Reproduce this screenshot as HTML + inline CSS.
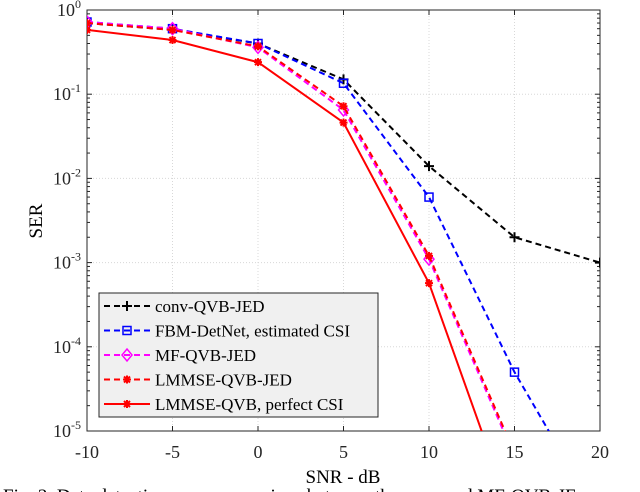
<!DOCTYPE html>
<html><head><meta charset="utf-8"><style>
html,body{margin:0;background:#fff;width:640px;height:492px;overflow:hidden;font-family:"Liberation Serif",serif}
svg{display:block;overflow:hidden}
</style></head><body>
<svg id="chart" width="640" height="492" xmlns="http://www.w3.org/2000/svg" font-family="Liberation Serif, serif">
<defs><clipPath id="pc"><rect x="87" y="10" width="513" height="421"/></clipPath>
<clipPath id="cc"><rect x="0" y="470" width="640" height="22"/></clipPath></defs>
<g id="grid"></g><g id="axes"></g><g id="series" clip-path="url(#pc)"></g><g id="legend"></g>
<text x="42" y="221" font-size="19" text-anchor="middle" transform="rotate(-90 42 221)">SER</text>
<text x="343" y="483" font-size="19" text-anchor="middle">SNR - dB</text>
<g clip-path="url(#cc)"><text x="3" y="502" font-size="19">Fig. 3.   Data detection error comparison between the proposed MF-QVB-JE</text></g>
</svg>
<script>
const snr=[-10,-5,0,5,10,15,20];
const convQVB=[0.7,0.58,0.4,0.15,0.014,0.002,0.001];
const fbmDetNet=[0.72,0.6,0.4,0.135,0.006,5e-5,9e-7];
const mfQVB=[0.72,0.6,0.36,0.065,0.0011,5e-6,null];
const lmmseJED=[0.7,0.58,0.37,0.072,0.0012,5.5e-6,null];
const lmmsePerfect=[0.58,0.44,0.24,0.046,0.00057,8e-7,null];
const xTicks=[-10,-5,0,5,10,15,20];
const yExps=[0,-1,-2,-3,-4,-5];
const legendLabels=["conv-QVB-JED","FBM-DetNet, estimated CSI","MF-QVB-JED","LMMSE-QVB-JED","LMMSE-QVB, perfect CSI"];

const L=87,R=600,T=10,B=431;
const X=v=>L+(v+10)/30*(R-L);
const Y=v=>T+(-Math.log10(v))/5*(B-T);
const NS="http://www.w3.org/2000/svg";
function mk(tag,attrs,parent){const e=document.createElementNS(NS,tag);for(const k in attrs)e.setAttribute(k,attrs[k]);parent.appendChild(e);return e;}
const grid=document.getElementById('grid'),axes=document.getElementById('axes'),ser=document.getElementById('series'),leg=document.getElementById('legend');
xTicks.forEach(t=>{
 const g=mk('line',{x1:X(t),x2:X(t),y1:T,y2:B,stroke:'#d8d8d8','stroke-dasharray':'1,2'},grid);
 
 mk('line',{x1:X(t),x2:X(t),y1:B,y2:B-5,stroke:'#262626'},axes);
 mk('line',{x1:X(t),x2:X(t),y1:T,y2:T+5,stroke:'#262626'},axes);
 const tx=mk('text',{x:X(t),y:B+27,'font-size':18,'text-anchor':'middle',fill:'#262626'},axes);tx.textContent=t;
 
});
yExps.forEach(e=>{
 const y=Y(Math.pow(10,e));
 const g=mk('line',{x1:L,x2:R,y1:y,y2:y,stroke:'#d8d8d8','stroke-dasharray':'1,2'},grid);
 
 mk('line',{x1:L,x2:L+5,y1:y,y2:y,stroke:'#262626'},axes);
 mk('line',{x1:R,x2:R-5,y1:y,y2:y,stroke:'#262626'},axes);
 const tx=mk('text',{x:L-6,y:y+6,'font-size':18,'text-anchor':'end',fill:'#262626'},axes);
 tx.innerHTML='10<tspan dy="-8" font-size="12">'+e+'</tspan>';
 
 if(e>-5)for(let m=2;m<10;m++){const yy=Y(m*Math.pow(10,e-1));
  mk('line',{x1:L,x2:L+3,y1:yy,y2:yy,stroke:'#262626'},axes);mk('line',{x1:R,x2:R-3,y1:yy,y2:yy,stroke:'#262626'},axes);}
});
const fr=mk('rect',{x:L,y:T,width:R-L,height:B-T,fill:'none',stroke:'#262626','stroke-width':1},axes);


function marker(type,x,y,c,p){
 if(type==='plus'){mk('path',{d:`M${x-5} ${y}H${x+5}M${x} ${y-5}V${y+5}`,stroke:c,'stroke-width':2},p);}
 else if(type==='square'){mk('rect',{x:x-4,y:y-4,width:8,height:8,fill:'none',stroke:c,'stroke-width':1.5},p);}
 else if(type==='diamond'){mk('path',{d:`M${x} ${y-6}L${x+5} ${y}L${x} ${y+6}L${x-5} ${y}Z`,fill:'none',stroke:c,'stroke-width':1.5},p);}
 else {mk('path',{d:`M${x-4} ${y}H${x+4}M${x} ${y-4}V${y+4}M${x-3} ${y-3}L${x+3} ${y+3}M${x-3} ${y+3}L${x+3} ${y-3}`,stroke:c,'stroke-width':2},p);}
}
const series=[
 {name:'conv-qvb-jed',d:convQVB,c:'#000',dash:'6,4',m:'plus'},
 {name:'fbm-detnet',d:fbmDetNet,c:'#0000ff',dash:'6,4',m:'square'},
 {name:'mf-qvb-jed',d:mfQVB,c:'#ff00ff',dash:'6,4',m:'diamond'},
 {name:'lmmse-qvb-jed',d:lmmseJED,c:'#ff0000',dash:'6,4',m:'star'},
 {name:'lmmse-qvb-perfect',d:lmmsePerfect,c:'#ff0000',dash:'',m:'star'}];
series.forEach(s=>{
 const g=mk('g',{},ser);
 
 const pts=[];s.d.forEach((v,i)=>{if(v!=null)pts.push([X(snr[i]),Y(v)]);});
 const a={points:pts.map(p=>p.join(',')).join(' '),fill:'none',stroke:s.c,'stroke-width':2};
 if(s.dash)a['stroke-dasharray']=s.dash;
 mk('polyline',a,g);
 pts.forEach(p=>marker(s.m,p[0],p[1],s.c,g));
});
const lb=mk('rect',{x:99,y:293,width:279,height:124,fill:'#f0f0f0',stroke:'#262626'},leg);

series.forEach((s,i)=>{
 const y=306+i*24.5;
 const g=mk('g',{},leg);
 
 const a={x1:104,x2:150,y1:y,y2:y,stroke:s.c,'stroke-width':2};if(s.dash)a['stroke-dasharray']='6,4';
 mk('line',a,g);marker(s.m,127,y,s.c,g);
 const t=mk('text',{x:155,y:y+6,'font-size':17,fill:'#000'},g);t.textContent=legendLabels[i];
});
</script>
</body></html>
